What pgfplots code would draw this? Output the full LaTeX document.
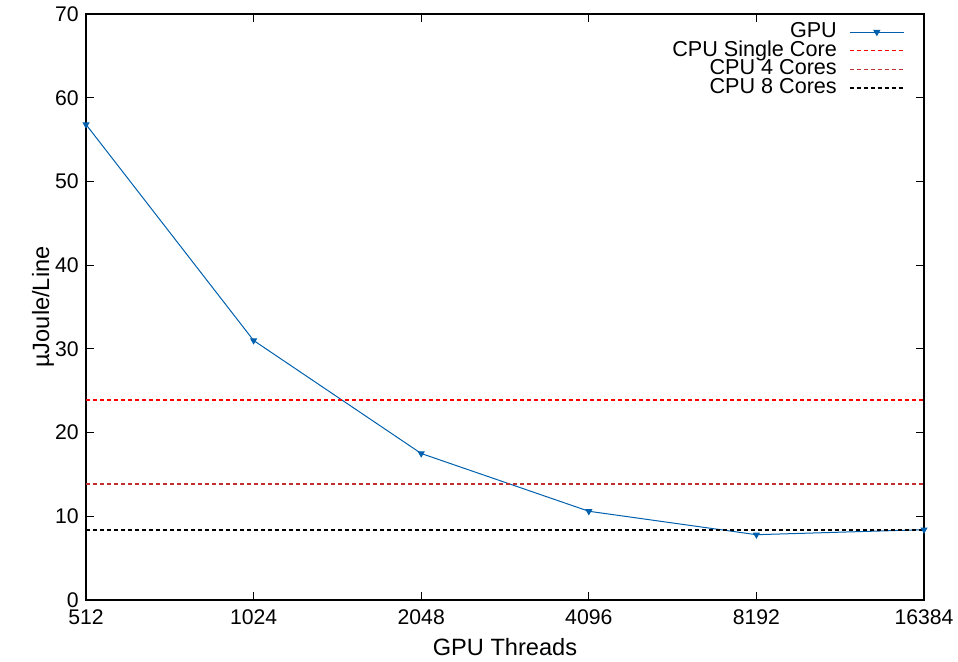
\documentclass[border=0pt]{standalone}
\usepackage{pgfplots}
\pgfplotsset{compat=1.18}
\usepackage{fontspec}
\setmainfont{Liberation Sans}
\definecolor{gpublue}{RGB}{0,96,173}
\definecolor{cpufour}{RGB}{192,48,48}
\begin{document}
\fontsize{10}{12}\selectfont
\begin{tikzpicture}
\begin{axis}[
  scale only axis,
  width=419pt, height=293pt,
  xmode=log, log basis x=2,
  xmin=512, xmax=16384,
  ymin=0, ymax=70,
  xtick={512,1024,2048,4096,8192,16384},
  xticklabels={512,1024,2048,4096,8192,16384},
  ytick={0,10,20,30,40,50,60,70},
  minor tick num=0,
  tick align=inside,
  major tick length=4pt,
  tick style={black, line width=0.5pt},
  axis line style={line width=0.6pt},
  /pgf/number format/assume math mode=true,
  ticklabel style={font=\fontsize{10.6}{12}\selectfont, inner sep=1pt},
  xticklabel style={yshift=-3.5pt},
  yticklabel style={xshift=-2.5pt},
  xlabel={GPU Threads},
  ylabel={µJoule/Line},
  label style={font=\fontsize{11.8}{13}\selectfont},
  xlabel style={yshift=-2.5pt},
  ylabel style={yshift=-4pt},
  legend plot pos=right,
  legend cell align=right,
  legend style={draw=none, fill=none, at={(0.9800,0.9892)}, anchor=north east,
    font=\fontsize{10.8}{10.8}\selectfont, row sep=0pt, inner sep=1pt,
    nodes={inner sep=0pt, text height=7.4pt, text depth=1.95pt},
    /tikz/every odd column/.append style={column sep=6pt}},
  legend image code/.code={\draw[#1, mark repeat=2, mark phase=2] plot coordinates {(0cm,0cm) (0.48cm,0cm) (0.96cm,0cm)};},
]
\addlegendimage{gpublue, line width=0.5pt, mark=triangle*, mark size=1.6pt, mark options={rotate=180, solid, fill=gpublue}}
\addlegendentry{GPU}
\addlegendimage{red, line width=0.7pt, dash pattern=on 2pt off 1.5pt}
\addlegendentry{CPU Single Core}
\addlegendimage{cpufour, line width=0.7pt, dash pattern=on 2pt off 1.5pt}
\addlegendentry{CPU 4 Cores}
\addlegendimage{black, line width=0.7pt, dash pattern=on 2pt off 1.5pt}
\addlegendentry{CPU 8 Cores}
\addplot[forget plot, gpublue, line width=0.5pt, mark=triangle*, mark size=1.6pt, mark options={rotate=180, solid}]
  coordinates {(512,56.8) (1024,31.0) (2048,17.5) (4096,10.6) (8192,7.8) (16384,8.4)};
\addplot[forget plot, red, line width=0.6pt, dash pattern=on 2pt off 1.5pt]
  coordinates {(512,23.9) (16384,23.9)};
\addplot[forget plot, cpufour, line width=0.6pt, dash pattern=on 2pt off 1.5pt]
  coordinates {(512,13.85) (16384,13.85)};
\addplot[forget plot, black, line width=0.6pt, dash pattern=on 2pt off 1.5pt]
  coordinates {(512,8.35) (16384,8.35)};
\end{axis}
\pgfresetboundingbox
\path (current axis.south west) ++(-43pt,-31pt) coordinate (bbA);
\path (current axis.north east) ++(17pt,7pt) coordinate (bbB);
\useasboundingbox (bbA) rectangle (bbB);
\end{tikzpicture}
\end{document}
